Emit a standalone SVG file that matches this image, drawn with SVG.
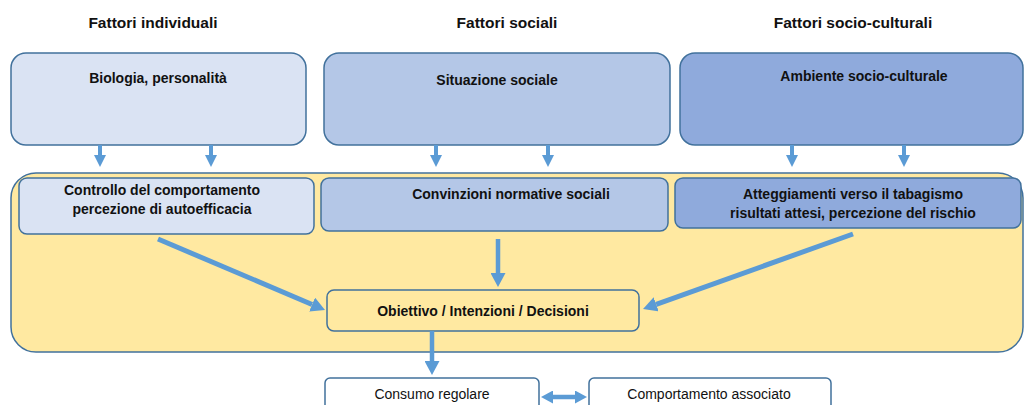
<svg xmlns="http://www.w3.org/2000/svg" width="1024" height="405" viewBox="0 0 1024 405">
<style>
text{font-family:"Liberation Sans",Arial,sans-serif;fill:#111;text-anchor:middle}
.t{font-size:15.5px;font-weight:bold}
.b{font-size:14px;font-weight:bold}
.r{font-size:14px}
.box{stroke:#41719C;stroke-width:1.5}
.c1{fill:#DAE3F3}.c2{fill:#B4C7E7}.c3{fill:#8FAADC}.y{fill:#FFE9A1}.w{fill:#FFFFFF}
.a{stroke:#5B9BD5;fill:none;stroke-linecap:butt}
</style>
<defs>
<marker id="hs" markerUnits="userSpaceOnUse" viewBox="0 0 12 12" markerWidth="12" markerHeight="12" refX="0" refY="6" orient="auto"><path d="M0,0L12,6L0,12z" fill="#5B9BD5"/></marker>
<marker id="hm" markerUnits="userSpaceOnUse" viewBox="0 0 14 15" markerWidth="14" markerHeight="15" refX="0" refY="7.5" orient="auto"><path d="M0,0L14,7.5L0,15z" fill="#5B9BD5"/></marker>
<marker id="hd" markerUnits="userSpaceOnUse" viewBox="0 0 12 13" markerWidth="12" markerHeight="13" refX="0" refY="6.5" orient="auto-start-reverse"><path d="M0,0L12,6.5L0,13z" fill="#5B9BD5"/></marker>
</defs>
<g id="titles">
<text class="t" x="153" y="28">Fattori individuali</text>
<text class="t" x="507" y="28">Fattori sociali</text>
<text class="t" x="853" y="28">Fattori socio-culturali</text>
</g>
<g id="n-biologia"><rect class="box c1" x="11" y="53" width="295" height="92" rx="15"/><text class="b" x="158" y="83">Biologia, personalità</text></g>
<g id="n-situazione"><rect class="box c2" x="324" y="53" width="346" height="92" rx="15"/><text class="b" x="497" y="85">Situazione sociale</text></g>
<g id="n-ambiente"><rect class="box c3" x="680" y="53" width="343" height="92" rx="15"/><text class="b" x="864" y="81">Ambiente socio-culturale</text></g>
<g id="n-yellow"><rect class="box y" x="11" y="173" width="1012" height="179" rx="25"/></g>
<g id="n-controllo"><rect class="box c1" x="19" y="178" width="295" height="56" rx="8"/><text class="b" x="162" y="195">Controllo del comportamento</text><text class="b" x="162" y="214">percezione di autoefficacia</text></g>
<g id="n-convinzioni"><rect class="box c2" x="321" y="178" width="347" height="53" rx="8"/><text class="b" x="511" y="199">Convinzioni normative sociali</text></g>
<g id="n-atteggiamenti"><rect class="box c3" x="675" y="178" width="346" height="50" rx="8"/><text class="b" x="853" y="199">Atteggiamenti verso il tabagismo</text><text class="b" x="853" y="218">risultati attesi, percezione del rischio</text></g>
<g id="n-obiettivo"><rect class="box y" x="327" y="290" width="312" height="41" rx="7"/><text class="b" x="483" y="316">Obiettivo / Intenzioni / Decisioni</text></g>
<g id="n-consumo"><rect class="box w" x="325" y="378" width="214" height="40" rx="5"/><text class="r" x="432" y="399">Consumo regolare</text></g>
<g id="n-comportamento"><rect class="box w" x="589" y="378" width="242" height="40" rx="5"/><text class="r" x="709" y="399">Comportamento associato</text></g>
<g id="connectors">
<line class="a" x1="100" y1="145" x2="100" y2="155" stroke-width="4" marker-end="url(#hs)"/>
<line class="a" x1="211" y1="145" x2="211" y2="155" stroke-width="4" marker-end="url(#hs)"/>
<line class="a" x1="436" y1="145" x2="436" y2="155" stroke-width="4" marker-end="url(#hs)"/>
<line class="a" x1="548" y1="145" x2="548" y2="155" stroke-width="4" marker-end="url(#hs)"/>
<line class="a" x1="792" y1="145" x2="792" y2="155" stroke-width="4" marker-end="url(#hs)"/>
<line class="a" x1="904" y1="145" x2="904" y2="155" stroke-width="4" marker-end="url(#hs)"/>
<line class="a" x1="498" y1="239" x2="498" y2="273" stroke-width="4.5" marker-end="url(#hm)"/>
<line class="a" x1="158" y1="239" x2="312.1" y2="304.5" stroke-width="5" marker-end="url(#hm)"/>
<line class="a" x1="853" y1="234" x2="656.2" y2="304.3" stroke-width="5" marker-end="url(#hm)"/>
<line class="a" x1="432" y1="331" x2="432" y2="361" stroke-width="4.5" marker-end="url(#hm)"/>
<line class="a" x1="553" y1="397" x2="575" y2="397" stroke-width="4.5" marker-start="url(#hd)" marker-end="url(#hd)"/>
</g>
</svg>
